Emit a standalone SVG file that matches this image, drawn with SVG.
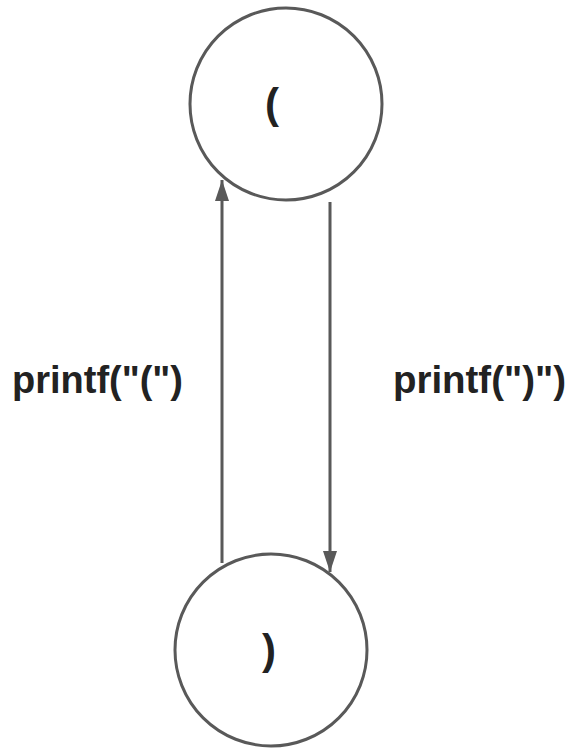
<svg xmlns="http://www.w3.org/2000/svg" width="586" height="754" viewBox="0 0 586 754">
<defs>
<style>
.node{fill:#fff;stroke:#595959;stroke-width:3}
.lbl{font-family:"Liberation Sans",Arial,sans-serif;font-weight:bold;fill:#222}
.edge{stroke:#595959;stroke-width:3;fill:none}
</style>
<marker id="ah" markerUnits="userSpaceOnUse" markerWidth="21" markerHeight="14" refX="21" refY="7" orient="auto" viewBox="0 0 21 14">
<path d="M0,0 L21,7 L0,14 Z" fill="#595959"/>
</marker>
</defs>
<rect width="586" height="754" fill="#fff"/>
<g id="connectors">
<path class="edge" d="M222,563 L222,180" marker-end="url(#ah)"/>
<path class="edge" d="M330,202 L330,572" marker-end="url(#ah)"/>
<text class="lbl" x="12" y="393" font-size="38" textLength="171" lengthAdjust="spacingAndGlyphs">printf("(")</text>
<text class="lbl" x="393" y="393" font-size="38" textLength="173" lengthAdjust="spacingAndGlyphs">printf(")")</text>
</g>
<g id="node-open">
<circle class="node" cx="286" cy="104" r="96"/>
<text class="lbl" x="272" y="118" font-size="42" text-anchor="middle">(</text>
</g>
<g id="node-close">
<circle class="node" cx="271" cy="650" r="96"/>
<text class="lbl" x="269" y="664" font-size="42" text-anchor="middle">)</text>
</g>
</svg>
